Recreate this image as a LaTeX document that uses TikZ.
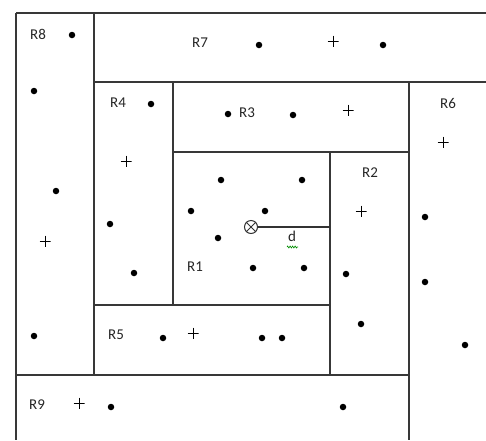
\documentclass[tikz,border=0pt]{standalone}
\usepackage{fontspec}
\setmainfont{Carlito}
\usetikzlibrary{decorations.pathmorphing}
\begin{document}
\begin{tikzpicture}[x=1pt,y=-1pt,
  wall/.style={draw=black!78,line width=1.2pt},
  lbl/.style={font=\fontsize{15}{16}\selectfont,text=black!85,inner sep=0pt},
  pt/.style={circle,fill=black,inner sep=0pt,minimum size=6.5pt},
  crs/.style={inner sep=0pt,minimum size=11pt,path picture={
     \draw[black,line width=1pt] (path picture bounding box.north) -- (path picture bounding box.south)
       (path picture bounding box.west) -- (path picture bounding box.east);}},
  ctr/.style={circle,draw=black!80,line width=1pt,inner sep=0pt,minimum size=13pt}]
\useasboundingbox (0,0) rectangle (486,440);
% walls
\draw[wall] (16,13) -- (486,13);
\draw[wall] (16,13) -- (16,440);
\draw[wall] (94,13) -- (94,375);
\draw[wall] (94,82) -- (486,82);
\draw[wall] (173,82) -- (173,305);
\draw[wall] (173,152) -- (409,152);
\draw[wall] (409,82) -- (409,440);
\draw[wall] (330,152) -- (330,375);
\draw[wall] (94,305) -- (330,305);
\draw[wall] (16,375) -- (409,375);
% labels
\node[lbl] (r8) at (38,34) {R8};
\node[lbl] (r7) at (200,43) {R7};
\node[lbl] (r4) at (118,103) {R4};
\node[lbl] (r3) at (247,113) {R3};
\node[lbl] (r6) at (448,103) {R6};
\node[lbl] (r2) at (370,173) {R2};
\node[lbl] (r1) at (195,267) {R1};
\node[lbl] (r5) at (116,335) {R5};
\node[lbl] (r9) at (37,405) {R9};
% dots
\node[pt] (p1) at (72,35) {};
\node[pt] (p2) at (34,91) {};
\node[pt] (p3) at (56,191) {};
\node[pt] (p4) at (34,336) {};
\node[pt] (p5) at (259,45) {};
\node[pt] (p6) at (383,45) {};
\node[pt] (p7) at (151,104) {};
\node[pt] (p8) at (110,224) {};
\node[pt] (p9) at (134,273) {};
\node[pt] (p10) at (228,114) {};
\node[pt] (p11) at (293,115) {};
\node[pt] (p12) at (425,217) {};
\node[pt] (p13) at (425,282) {};
\node[pt] (p14) at (465,345) {};
\node[pt] (p15) at (346,274) {};
\node[pt] (p16) at (361,324) {};
\node[pt] (p17) at (221,180) {};
\node[pt] (p18) at (302,180) {};
\node[pt] (p19) at (191,211) {};
\node[pt] (p20) at (265,211) {};
\node[pt] (p21) at (218,238) {};
\node[pt] (p22) at (253,268) {};
\node[pt] (p23) at (304,268) {};
\node[pt] (p24) at (163,338) {};
\node[pt] (p25) at (262,338) {};
\node[pt] (p26) at (282,338) {};
\node[pt] (p27) at (111,407) {};
\node[pt] (p28) at (343,407) {};
% crosses
\node[crs] (c1) at (45,241) {};
\node[crs] (c2) at (333,41) {};
\node[crs] (c3) at (126,161) {};
\node[crs] (c4) at (348,110) {};
\node[crs] (c5) at (443,142) {};
\node[crs] (c6) at (361,211) {};
\node[crs] (c7) at (193,333) {};
\node[crs] (c8) at (79,403) {};
% centre and distance
\node[ctr] (q) at (251,227) {};
\draw[black!80,line width=1pt] (q.north west) -- (q.south east) (q.north east) -- (q.south west);
\coordinate (qe) at (330,227);
\draw[black!80,line width=1.2pt] (q.east) -- (qe);
\node[lbl] (d) at (292,236) {d};
\coordinate (s1) at (287,247);
\coordinate (s2) at (298,247);
\draw[green!55!black,line width=0.6pt,decorate,decoration={zigzag,amplitude=1pt,segment length=2.5pt}] (s1) -- (s2);
\end{tikzpicture}
\end{document}
